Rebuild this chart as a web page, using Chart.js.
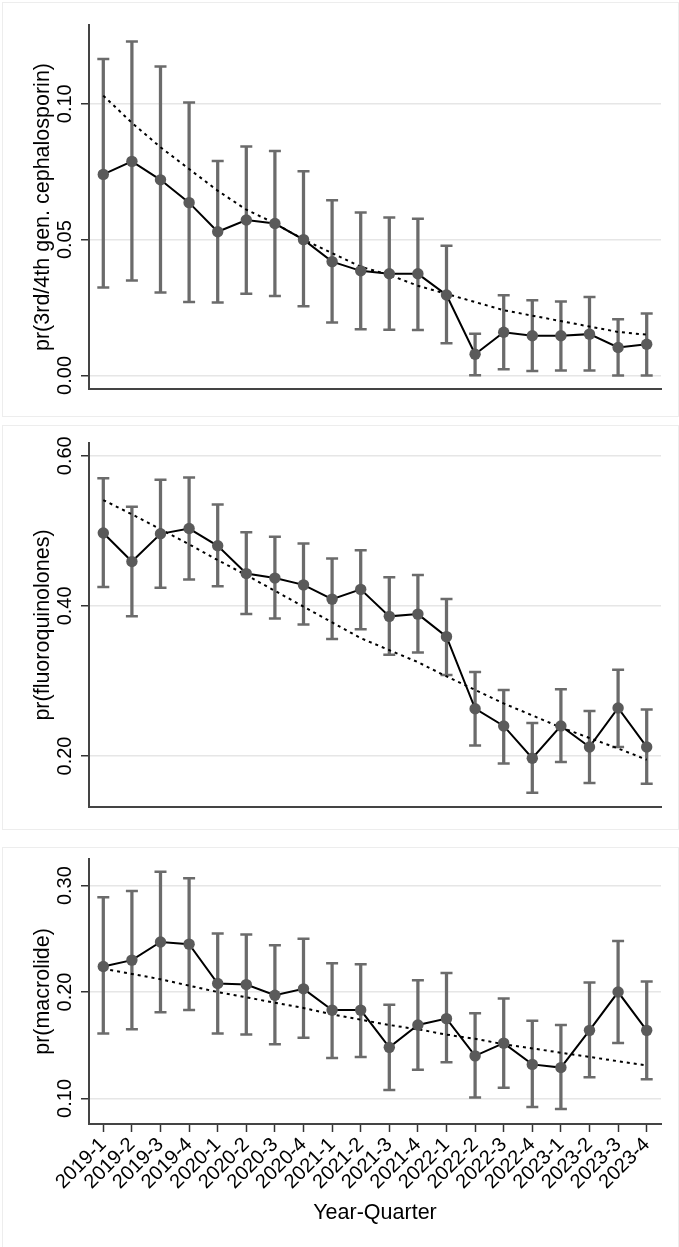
<!DOCTYPE html>
<html>
<head>
<meta charset="utf-8">
<script src="https://cdn.jsdelivr.net/npm/chart.js@4.4.0/dist/chart.umd.min.js"></script>
<style>
  body { margin: 0; background: #fff; width: 679px; height: 1247px; position: relative; overflow: hidden; }
  .frame { position: absolute; border: 1px solid #ededed; }
  canvas { position: absolute; left: 0; }
</style>
</head>
<body>
<div class="frame" style="left:2px;top:2px;width:675px;height:413px"></div>
<div class="frame" style="left:2px;top:425px;width:675px;height:403px"></div>
<div class="frame" style="left:2px;top:847px;width:675px;height:402px"></div>
<canvas id="ceph" width="679" height="418" style="top:0px"></canvas>
<canvas id="fq" width="679" height="410" style="top:420px"></canvas>
<canvas id="mac" width="679" height="407" style="top:840px"></canvas>
<script>
// quarters on the x axis
const quarters = ['2019-1','2019-2','2019-3','2019-4','2020-1','2020-2','2020-3','2020-4',
  '2021-1','2021-2','2021-3','2021-4','2022-1','2022-2','2022-3','2022-4',
  '2023-1','2023-2','2023-3','2023-4'];

// 3rd/4th gen. cephalosporin
const cephMean  = [0.0740, 0.0788, 0.0720, 0.0636, 0.0529, 0.0572, 0.0559, 0.0500, 0.0419, 0.0385,
                   0.0374, 0.0374, 0.0296, 0.0078, 0.0159, 0.0146, 0.0146, 0.0152, 0.0103, 0.0115];
const cephLo    = [0.0324, 0.0349, 0.0305, 0.0270, 0.0268, 0.0301, 0.0292, 0.0255, 0.0195, 0.0170,
                   0.0168, 0.0167, 0.0118, 0.0001, 0.0023, 0.0016, 0.0018, 0.0018, 0.0000, 0.0000];
const cephHi    = [0.1165, 0.1229, 0.1137, 0.1005, 0.0789, 0.0843, 0.0826, 0.0752, 0.0645, 0.0600,
                   0.0581, 0.0577, 0.0477, 0.0153, 0.0295, 0.0277, 0.0272, 0.0289, 0.0207, 0.0228];
const cephTrend = [0.103, 0.093, 0.084, 0.076, 0.068, 0.061, 0.056, 0.050, 0.045, 0.040,
                   0.037, 0.033, 0.030, 0.027, 0.024, 0.022, 0.020, 0.018, 0.016, 0.015];

// fluoroquinolones
const fqMean  = [0.497, 0.459, 0.496, 0.503, 0.480, 0.443, 0.437, 0.428, 0.409, 0.422,
                 0.386, 0.389, 0.359, 0.263, 0.240, 0.197, 0.240, 0.212, 0.264, 0.212];
const fqLo    = [0.425, 0.386, 0.424, 0.435, 0.426, 0.389, 0.383, 0.375, 0.356, 0.369,
                 0.335, 0.338, 0.308, 0.214, 0.190, 0.151, 0.192, 0.164, 0.212, 0.163];
const fqHi    = [0.570, 0.532, 0.568, 0.571, 0.535, 0.498, 0.492, 0.483, 0.463, 0.474,
                 0.438, 0.441, 0.409, 0.312, 0.288, 0.244, 0.289, 0.260, 0.315, 0.262];
const fqTrend = [0.541, 0.522, 0.502, 0.482, 0.461, 0.441, 0.420, 0.399, 0.378, 0.357,
                 0.341, 0.325, 0.306, 0.288, 0.270, 0.254, 0.238, 0.224, 0.210, 0.195];

// macrolide
const macMean  = [0.224, 0.230, 0.247, 0.245, 0.208, 0.207, 0.197, 0.203, 0.183, 0.183,
                  0.148, 0.169, 0.175, 0.140, 0.152, 0.132, 0.129, 0.164, 0.200, 0.164];
const macLo    = [0.161, 0.165, 0.181, 0.183, 0.161, 0.160, 0.151, 0.157, 0.138, 0.139,
                  0.108, 0.127, 0.134, 0.101, 0.110, 0.092, 0.090, 0.120, 0.152, 0.118];
const macHi    = [0.289, 0.295, 0.313, 0.307, 0.255, 0.254, 0.244, 0.250, 0.227, 0.226,
                  0.188, 0.211, 0.218, 0.180, 0.194, 0.173, 0.169, 0.209, 0.248, 0.210];
const macTrend = [0.222, 0.217, 0.212, 0.206, 0.200, 0.195, 0.190, 0.185, 0.179, 0.174,
                  0.169, 0.165, 0.160, 0.156, 0.151, 0.147, 0.143, 0.139, 0.135, 0.131];

const FONT = '"Liberation Sans", Arial, sans-serif';
const markGrey = '#5a5a5a';
const barGrey = '#6b6b6b';

function capSet(vals) {
  return { type: 'line', data: vals, showLine: false, pointStyle: 'line',
    pointRadius: 6, pointBorderWidth: 2.5, pointBorderColor: barGrey, order: 2 };
}

function panel(id, yTitle, mean, lo, hi, trend, yMin, yMax, step, padTop, xHeight, showX) {
  new Chart(document.getElementById(id).getContext('2d'), {
    type: 'line',
    data: {
      labels: quarters,
      datasets: [
        { type: 'line', data: mean, borderColor: '#000', borderWidth: 2,
          pointRadius: 5.7, pointBackgroundColor: markGrey, pointBorderColor: markGrey,
          pointBorderWidth: 0, order: 0 },
        { type: 'line', data: trend, borderColor: '#000', borderWidth: 2,
          borderDash: [3, 4], pointRadius: 0, order: 1 },
        { type: 'bar', data: lo.map((v, i) => [v, hi[i]]), backgroundColor: barGrey,
          barThickness: 2.6, order: 3 },
        capSet(lo),
        capSet(hi)
      ]
    },
    options: {
      responsive: false,
      animation: false,
      layout: { padding: { top: padTop, right: 18, left: 0, bottom: 0 } },
      plugins: { legend: { display: false }, tooltip: { enabled: false } },
      scales: {
        x: {
          offset: true,
          grid: { drawOnChartArea: false, offset: false, drawTicks: showX,
                  tickLength: 8, tickColor: '#333', tickWidth: 1.5 },
          border: { display: true, color: '#444', width: 2 },
          ticks: { display: showX, minRotation: 45, maxRotation: 45, autoSkip: false,
                   padding: 1, color: '#000', font: { family: FONT, size: 20 } },
          title: { display: showX, text: 'Year-Quarter', color: '#000',
                   font: { family: FONT, size: 21.5 }, padding: { top: 0, bottom: 21 } },
          afterFit: s => { s.height = xHeight; s.paddingLeft = 0; s.paddingRight = 0; }
        },
        y: {
          min: yMin, max: yMax,
          ticks: { stepSize: step, includeBounds: false, minRotation: 90, maxRotation: 90,
                   crossAlign: 'center', padding: -4, color: '#000',
                   font: { family: FONT, size: 20 },
                   callback: v => Number(v).toFixed(2) },
          grid: { color: '#e6e6e6', lineWidth: 1.5, tickLength: 8, tickColor: '#333', tickWidth: 1.5 },
          border: { color: '#444', width: 2 },
          title: { display: true, text: yTitle, color: '#000',
                   font: { family: FONT, size: 21.5 }, padding: { top: 30, bottom: 0 } },
          afterFit: s => { s.width = 89; s.paddingTop = 0; s.paddingBottom = 0; }
        }
      }
    }
  });
}

panel('ceph', 'pr(3rd/4th gen. cephalosporin)', cephMean, cephLo, cephHi, cephTrend,
      -0.005, 0.129, 0.05, 25, 29, false);
panel('fq', 'pr(fluoroquinolones)', fqMean, fqLo, fqHi, fqTrend,
      0.132, 0.617, 0.2, 23, 23, false);
panel('mac', 'pr(macrolide)', macMean, macLo, macHi, macTrend,
      0.076, 0.325, 0.1, 19, 123, true);
</script>
</body>
</html>
